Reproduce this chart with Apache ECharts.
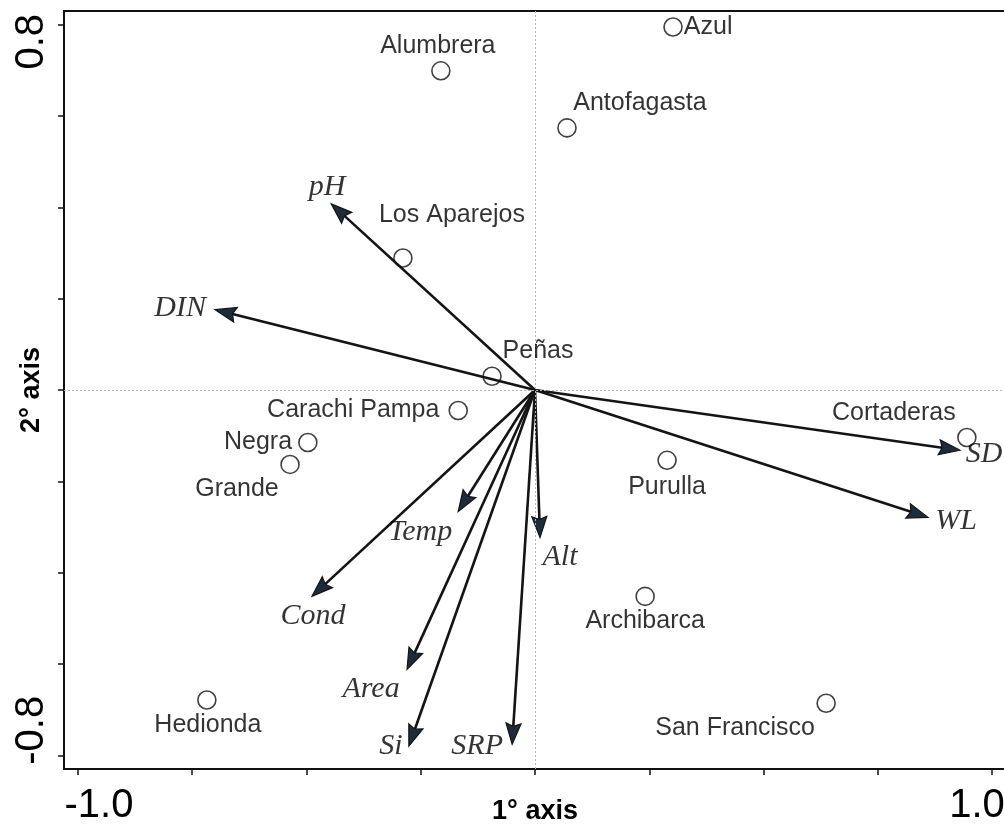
<!DOCTYPE html>
<html><head><meta charset="utf-8">
<script src="https://cdn.jsdelivr.net/npm/echarts@6/dist/echarts.min.js"></script>
<style>html,body{margin:0;padding:0;background:#fff}#c{width:1004px;height:829px}</style>
</head><body><div id="c"></div>
<script>
// ---- data ----
const siteNames = ['Azul','Alumbrera','Antofagasta','Los Aparejos','Peñas','Carachi Pampa','Negra','Grande','Cortaderas','Purulla','Archibarca','San Francisco','Hedionda'];
const siteX = [0.302,-0.206,0.070,-0.289,-0.094,-0.168,-0.497,-0.536,0.945,0.289,0.241,0.637,-0.718];
const siteY = [0.795,0.699,0.574,0.289,0.030,-0.045,-0.115,-0.163,-0.104,-0.154,-0.452,-0.686,-0.679];
const varNames = ['pH','DIN','SD','WL','Temp','Cond','Area','Si','SRP','Alt'];
const varX = [-0.446,-0.700,0.930,0.860,-0.168,-0.488,-0.280,-0.276,-0.050,0.011];
const varY = [0.408,0.176,-0.132,-0.279,-0.266,-0.452,-0.612,-0.780,-0.776,-0.323];
const xTickValues = [-1,-0.75,-0.5,-0.25,0,0.25,0.5,0.75,1];
const xLabelValues = [-1,1];
const xLabelTexts = ['-1.0','1.0'];
const yTickValues = [-0.8,-0.6,-0.4,-0.2,0,0.2,0.4,0.6,0.8];
const yLabelValues = [-0.8,0.8];
const yLabelTexts = ['-0.8','0.8'];
const xName = '1° axis';
const yName = '2° axis';

// ---- label placement (style) ----
const siteLabelStyle = {
  'Azul': {position:'right', distance:1},
  'Alumbrera': {offset:[-3,-25]},
  'Antofagasta': {offset:[73,-25]},
  'Los Aparejos': {offset:[49,-43]},
  'Peñas': {offset:[46,-25]},
  'Carachi Pampa': {position:'left', distance:9},
  'Negra': {position:'left', distance:6},
  'Grande': {offset:[-53,25]},
  'Cortaderas': {offset:[-73,-24]},
  'Purulla': {offset:[0,27]},
  'Archibarca': {offset:[0,25]},
  'San Francisco': {offset:[-91,25]},
  'Hedionda': {offset:[1,25]}
};
const varLabelOffset = {
  'pH':[-4,-17], 'DIN':[-35,-2], 'SD':[24,4], 'WL':[28,4], 'Temp':[-38,21],
  'Cond':[1,20], 'Area':[-36,20], 'Si':[-18,0], 'SRP':[-35,2], 'Alt':[20,20]
};

const siteData = siteNames.map((n,i) => {
  const s = siteLabelStyle[n] || {};
  const lab = s.offset ? {position:'inside', offset:s.offset} : {position:s.position, distance:s.distance};
  return {name:n, value:[siteX[i], siteY[i]], label:lab};
});
const varData = varNames.map((n,i) => ({name:n, value:[varX[i], varY[i]], label:{offset:varLabelOffset[n]}}));

const chart = echarts.init(document.getElementById('c'), null, {renderer:'canvas'});
const sans = 'Liberation Sans, Arial, sans-serif';
const serif = 'Liberation Serif, Times New Roman, serif';

chart.setOption({
  backgroundColor:'#fff',
  animation:false,
  grid:{left:64, right:-2, top:11, bottom:60, containLabel:false, outerBoundsMode:'none',
        show:true, borderColor:'#111', borderWidth:2, backgroundColor:'transparent'},
  xAxis:{
    type:'value', min:-1.0306, max:1.0306,
    splitLine:{show:false},
    axisLine:{show:true, onZero:false, lineStyle:{color:'#111', width:2}},
    axisTick:{show:true, length:6, customValues:xTickValues, lineStyle:{color:'#111', width:1.5}},
    axisLabel:{
      customValues:xLabelValues, margin:17, color:'#000',
      formatter:(v) => { const k = xLabelValues.findIndex(t => Math.abs(t - v) < 1e-9); return k === 0 ? '{l|' + xLabelTexts[k] + '}' : '{r|' + xLabelTexts[k] + '}'; },
      rich:{
        l:{fontFamily:sans, fontSize:40, color:'#000', padding:[0,0,0,42]},
        r:{fontFamily:sans, fontSize:40, color:'#000', padding:[0,30,0,0]}
      }
    },
    name:xName, nameLocation:'middle', nameGap:29, nameMoveOverlap:false,
    nameTextStyle:{fontFamily:sans, fontSize:27, fontWeight:'bold', color:'#000'}
  },
  yAxis:{
    type:'value', min:-0.83, max:0.83,
    splitLine:{show:false},
    axisLine:{show:true, onZero:false, lineStyle:{color:'#111', width:2}},
    axisTick:{show:true, length:6, customValues:yTickValues, lineStyle:{color:'#111', width:1.5}},
    axisLabel:{
      customValues:yLabelValues, margin:12, rotate:90, color:'#000',
      formatter:(v) => { const k = yLabelValues.findIndex(t => Math.abs(t - v) < 1e-9); return k === 0 ? '{b|' + yLabelTexts[k] + '}' : '{t|' + yLabelTexts[k] + '}'; },
      rich:{
        b:{fontFamily:sans, fontSize:40, color:'#000', padding:[0,0,0,50]},
        t:{fontFamily:sans, fontSize:40, color:'#000', padding:[0,34,0,0]}
      }
    },
    name:yName, nameLocation:'middle', nameGap:19, nameMoveOverlap:false,
    nameTextStyle:{fontFamily:sans, fontSize:27, fontWeight:'bold', color:'#000'}
  },
  series:[
    {
      type:'scatter', name:'ref', data:[], z:1,
      markLine:{
        silent:true, symbol:'none', animation:false,
        label:{show:false},
        lineStyle:{type:[2,2], color:'#b5b5b5', width:1},
        data:[{xAxis:0},{yAxis:0}]
      }
    },
    {
      type:'custom', name:'vectors', z:3,
      data:varNames.map((n,i) => [varX[i], varY[i]]),
      renderItem:(params, api) => {
        const p0 = api.coord([0,0]);
        const p1 = api.coord([api.value(0), api.value(1)]);
        const dx = p1[0]-p0[0], dy = p1[1]-p0[1];
        const L = Math.hypot(dx,dy); const ux = dx/L, uy = dy/L;
        const hl = 21, hw = 7.5, notch = 3;
        const bx = p1[0]-ux*hl, by = p1[1]-uy*hl;
        const nx = -uy, ny = ux;
        return {type:'group', children:[
          {type:'line', shape:{x1:p0[0], y1:p0[1], x2:bx+ux*notch, y2:by+uy*notch}, style:{stroke:'#141414', lineWidth:2.6}},
          {type:'polygon', shape:{points:[[p1[0],p1[1]],[bx+nx*hw,by+ny*hw],[bx+ux*notch,by+uy*notch],[bx-nx*hw,by-ny*hw]]},
           style:{fill:'#1d2c3b', stroke:'#141414', lineWidth:1.2}}
        ]};
      }
    },
    {
      type:'scatter', name:'varLabels', z:4, symbol:'circle', symbolSize:1,
      itemStyle:{color:'rgba(0,0,0,0)'},
      label:{show:true, position:'inside', formatter:'{b}', fontFamily:serif, fontStyle:'italic', fontSize:30, color:'#000', textBorderWidth:0},
      data:varData
    },
    {
      type:'scatter', name:'sites', z:5, symbol:'circle', symbolSize:18,
      itemStyle:{color:'rgba(0,0,0,0)', borderColor:'#111', borderWidth:1.6},
      label:{show:true, formatter:'{b}', fontFamily:sans, fontSize:25, color:'#000', textBorderWidth:0},
      data:siteData
    }
  ]
});
</script>
</body></html>
